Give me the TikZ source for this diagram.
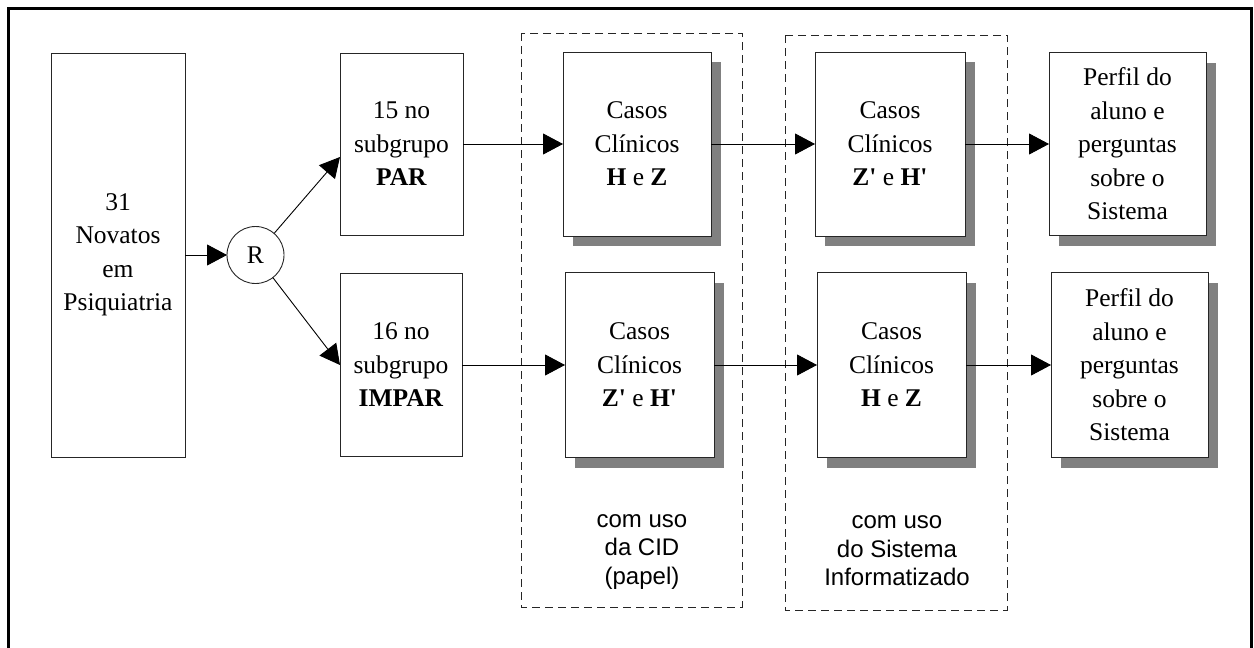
\documentclass[tikz,border=0pt]{standalone}
\usepackage{fontspec}
\setmainfont{Liberation Serif}
\setsansfont{Liberation Sans}
\usetikzlibrary{arrows.meta,shadows}
\newcommand{\sq}{\textquotesingle}
\begin{document}
\begin{tikzpicture}[x=1pt,y=-1pt,
  every node/.style={inner sep=0pt,outer sep=0pt},
  box/.style={draw=black!85,line width=1pt,fill=white,rectangle,align=center,
    font=\fontsize{25.5}{33.5}\selectfont},
  sbox/.style={box,drop shadow={shadow xshift=10pt,shadow yshift=-10pt,fill=black!50,opacity=1}},
  arr/.style={line width=0.9pt,-{Triangle[length=20pt,width=21pt]}},
  dbox/.style={draw=black!85,line width=0.9pt,dash pattern=on 8pt off 5pt},
  lbl/.style={align=center,font=\sffamily\fontsize{24}{28.5}\selectfont},
  frame/.style={draw=black,line width=3pt}]
\useasboundingbox (0,0) rectangle (1254,648);
\fill[white] (0,0) rectangle (1254,648);
\draw[frame] (8,660) -- (8,8) -- (1251,8) -- (1251,660);

% dashed groups
\draw[dbox] (521,33) rectangle (742,607);
\draw[dbox] (785,35) rectangle (1007,610);

\node[lbl] (l1) at (642,552) {com uso\\da CID\\(papel)};
\node[lbl] (l2) at (897,551) {com uso\\do Sistema\\Informatizado};

% boxes
\node[box,minimum width=134pt,minimum height=404pt] (nov) at (118,255) {31\\Novatos\\em\\Psiquiatria};
\node[draw=black!85,line width=0.9pt,circle,minimum size=57pt,font=\fontsize{25.5}{30}\selectfont] (r) at (255.5,255) {R};
\node[box,minimum width=123pt,minimum height=182pt] (par) at (401.5,144) {15 no\\subgrupo\\\textbf{PAR}};
\node[box,minimum width=122pt,minimum height=183pt] (impar) at (401,365) {16 no\\subgrupo\\\textbf{IMPAR}};

\node[sbox,minimum width=148pt,minimum height=184pt] (c1) at (637,144) {Casos\\Clínicos\\\textbf{H} e \textbf{Z}};
\node[sbox,minimum width=149pt,minimum height=185pt] (c3) at (639.5,365) {Casos\\Clínicos\\\textbf{Z\sq} e \textbf{H\sq}};
\node[sbox,minimum width=150pt,minimum height=184pt] (c2) at (890,144) {Casos\\Clínicos\\\textbf{Z\sq} e \textbf{H\sq}};
\node[sbox,minimum width=149pt,minimum height=185pt] (c4) at (891.5,365) {Casos\\Clínicos\\\textbf{H} e \textbf{Z}};

\node[sbox,minimum width=157pt,minimum height=183pt] (p1) at (1127.5,144) {Perfil do\\aluno e\\perguntas\\sobre o\\Sistema};
\node[sbox,minimum width=157pt,minimum height=185pt] (p2) at (1129.5,365) {Perfil do\\aluno e\\perguntas\\sobre o\\Sistema};

\coordinate (parin) at (340,157);

% connectors
\draw[arr] (nov.east |- r.west) -- (r.west);
\draw[arr] (r) -- (parin);
\draw[arr] (r) -- (impar.west);
\draw[arr] (par.east) -- (c1.west);
\draw[arr] (impar.east) -- (c3.west);
\draw[arr] (c1.east) -- (c2.west);
\draw[arr] (c3.east) -- (c4.west);
\draw[arr] (c2.east) -- (p1.west);
\draw[arr] (c4.east) -- (p2.west);
\end{tikzpicture}
\end{document}
